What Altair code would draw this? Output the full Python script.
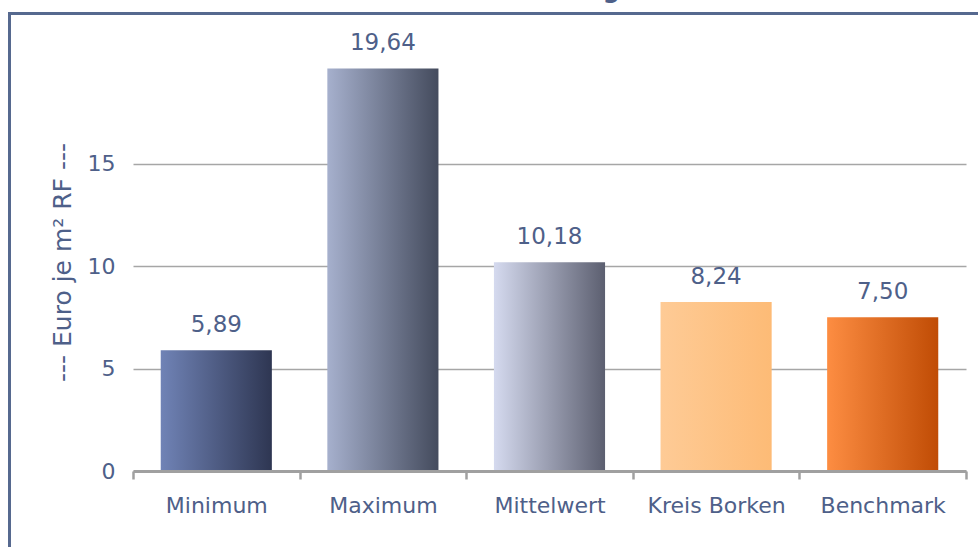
import altair as alt
import pandas as pd

# ---- data ----
categories = ["Minimum", "Maximum", "Mittelwert", "Kreis Borken", "Benchmark"]
values = [5.89, 19.64, 10.18, 8.24, 7.50]
value_labels = ["5,89", "19,64", "10,18", "8,24", "7,50"]
y_ticks = [0, 5, 10, 15]
y_title = "--- Euro je m² RF ---"
chart_title = "Benchmarking"

# gradient (left -> right) per bar
grad_left = ["#7083b6", "#a6b0cd", "#d5daef", "#fecb96", "#fd8d42"]
grad_right = ["#2e3652", "#444b5d", "#5c5f70", "#fdbb76", "#c04c05"]

TEXT = "#4e6089"
FRAME = "#56698f"
GRID = "#a6a6a6"
FONT = "DejaVu Sans"

df = pd.DataFrame({"cat": categories, "val": values, "lab": value_labels})

W, H = 833, 410
PL, PT = 133, 61

x_enc = alt.X(
    "cat:N",
    sort=categories,
    scale=alt.Scale(paddingInner=0, paddingOuter=0),
    axis=alt.Axis(
        title=None, labelAngle=0, tickBand="extent", tickSize=8,
        tickColor="#a0a0a0", tickWidth=2.5, domainColor="#a0a0a0",
        domainWidth=3, labelFont=FONT, labelFontSize=22, labelColor=TEXT,
        labelPadding=16, grid=False, zindex=1,
    ),
)
y_enc = alt.Y(
    "val:Q",
    scale=alt.Scale(domain=[0, 20], nice=False),
    axis=alt.Axis(
        values=y_ticks, grid=True, gridColor=GRID, gridWidth=1.5,
        domain=False, ticks=False, labelPadding=18, labelFont=FONT,
        labelFontSize=22, labelColor=TEXT,
        title=y_title, titleFont=FONT, titleFontSize=25,
        titleFontWeight="normal", titleColor=TEXT, titleAngle=-90,
        titleX=-71, titleY=H / 2 - 4, titleAlign="center", titleBaseline="middle",
    ),
)

base = alt.Chart(df).encode(x=x_enc, y=y_enc)

layers = []
for c, gl, gr in zip(categories, grad_left, grad_right):
    grad = alt.Gradient(
        gradient="linear",
        stops=[alt.GradientStop(color=gl, offset=0), alt.GradientStop(color=gr, offset=1)],
        x1=0, x2=1, y1=0, y2=0,
    )
    layers.append(
        base.transform_filter(alt.datum.cat == c).mark_bar(
            fill=grad, width=alt.RelativeBandSize(0.667)
        )
    )

labels = base.mark_text(
    font=FONT, fontSize=23, color=TEXT, baseline="alphabetic", dy=-18
).encode(text="lab:N")

one = pd.DataFrame({"t": [chart_title]})
frame = alt.Chart(one).mark_rect(
    fill="transparent", stroke=FRAME, strokeWidth=3
).encode(
    x=alt.value(9.5 - PL), x2=alt.value(1200), y=alt.value(13.5 - PT), y2=alt.value(700)
)
title = alt.Chart(one).mark_text(
    font=FONT, fontSize=24, fontWeight="bold", color=TEXT, align="right",
    baseline="alphabetic"
).encode(x=alt.value(620 - PL), y=alt.value(-2 - PT), text="t:N")

chart = alt.layer(frame, title, *layers, labels).properties(
    width=W, height=H,
    background="white",
    autosize=alt.AutoSizeParams(type="none"),
    padding={"left": PL, "top": PT, "right": 978 - PL - W, "bottom": 547 - PT - H},
).configure_view(stroke=None, strokeWidth=0)

chart.save("out.html", embed_options={"renderer": "svg", "actions": False})
